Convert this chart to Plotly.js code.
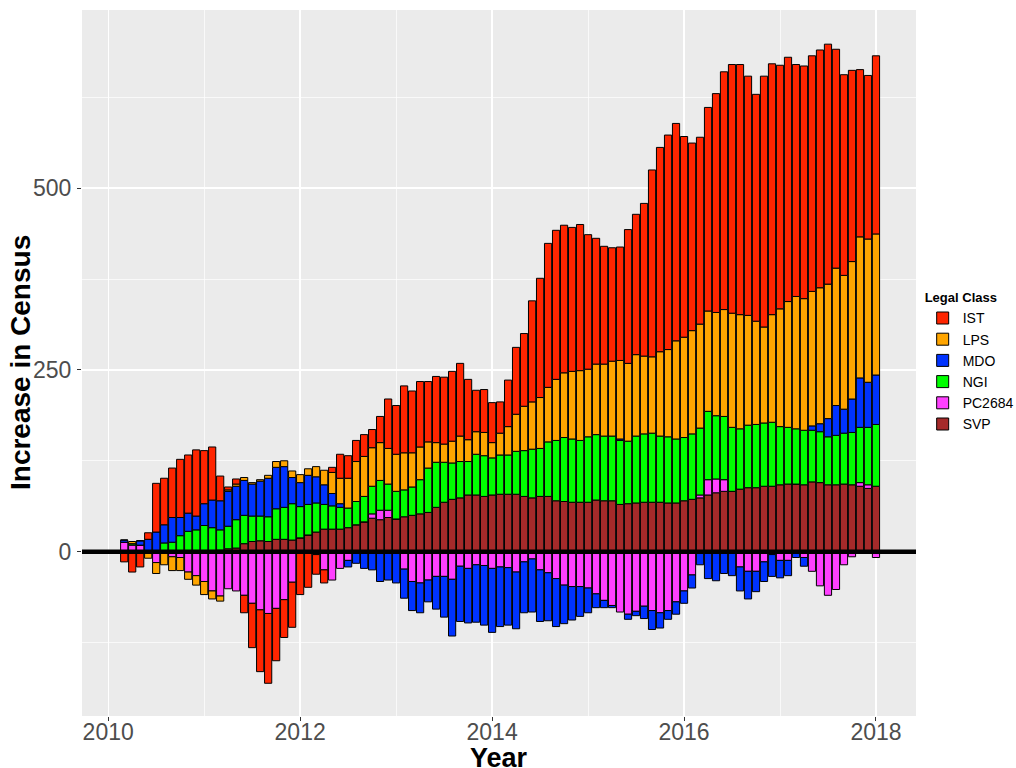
<!DOCTYPE html>
<html>
<head>
<meta charset="utf-8">
<script src="https://cdn.plot.ly/plotly-3.0.1.min.js"></script>
<style>html,body{margin:0;padding:0;background:#fff;}#chart{width:1016px;height:768px;}</style>
</head>
<body>
<div id="chart"></div>
<script>
// Monthly census change by legal class, Mar 2010 .. Jan 2018 (95 months)
const firstYear = 2010, firstMonth = 3, nMonths = 95;

const legalClasses = ["SVP", "PC2684", "NGI", "MDO", "LPS", "IST"];
const classColors = ["#A52A2A", "#FF40FF", "#00FF00", "#0033FF", "#FFA500", "#FF2500"];

const SVP = [0,0,0,0,0,0,0,0,0,0,0,0,2,4,5,11,14,15,14,17,17,16,19,23,27,31,31,31,33,37,
  41,46,44,47,45,48,50,52,54,61,68,72,74,78,78,76,78,79,79,79,76,74,76,76,70,69,68,68,68,71,
  70,70,65,66,67,68,68,68,67,67,70,72,74,78,81,83,83,86,88,88,90,90,92,93,93,92,96,95,92,92,
  93,92,90,87,90];
const PC2684 = [13,9,9,0,-15,0,-7,-8,-28,-33,-41,-54,-61,-51,-54,-60,-71,-80,-85,-78,-66,-42,0,0,-4,-25,-39,-23,-12,0,
  0,6,13,10,0,-24,-41,-43,-39,-34,-34,-38,-20,-23,-18,-19,-23,-21,-22,-28,-14,-10,-25,-29,-37,-46,-48,-48,-50,-58,
  -67,-74,-83,-86,-82,-75,-81,-84,-81,-69,-54,-32,4,21,19,16,0,-21,-27,-27,-14,-4,-12,-12,0,-8,-27,-47,-60,-52,
  -18,-7,5,5,-8];
const NGI = [0,2,0,0,0,12,13,22,28,30,36,33,28,31,39,39,35,34,34,42,44,50,43,42,40,34,32,30,27,32,
  35,38,41,36,38,37,39,47,61,62,55,50,50,46,56,56,51,54,54,59,63,67,66,75,83,88,87,85,90,90,
  89,89,88,86,92,94,95,91,91,88,87,90,92,94,87,87,88,83,86,87,87,88,80,78,76,75,71,70,66,68,
  70,72,76,79,85];
const MDO = [3,0,6,17,27,25,34,25,25,19,30,38,40,48,46,48,44,48,53,57,56,36,33,40,36,27,17,5,-9,-16,
  -23,-25,-41,-39,-43,-40,-40,-41,-30,-45,-56,-78,-76,-75,-79,-82,-88,-82,-79,-78,-70,-73,-71,-66,-66,-53,-46,-41,-34,-19,
  -10,-3,2,-7,-6,-17,-26,-21,-12,-17,-17,-18,-18,-37,-40,-30,-33,-33,-38,-28,-27,-30,-24,-21,-8,-12,6,11,25,41,
  33,46,68,62,68];
const LPS = [0,3,0,-9,-15,-18,-19,-18,-10,-13,-18,-11,-7,2,3,4,2,2,4,8,8,9,11,9,14,20,29,35,41,55,
  55,53,52,49,51,51,47,45,36,27,25,30,35,30,31,32,21,30,39,51,61,65,70,75,84,89,93,96,93,97,
  99,103,108,107,112,107,105,116,120,135,138,142,143,138,142,147,157,157,151,142,132,148,162,173,182,181,185,187,185,189,
  184,189,194,197,194];
const IST = [-14,-28,-21,9,67,64,68,80,80,91,73,73,34,4,7,-24,-61,-85,-96,-72,-52,-62,-59,-49,-27,-18,7,33,31,29,
  30,25,36,68,67,92,85,90,83,91,92,96,100,83,57,59,55,43,64,92,100,139,164,198,205,203,198,201,185,173,
  162,156,156,184,193,210,257,281,295,299,276,258,257,280,301,327,342,344,329,312,345,345,335,336,319,320,324,327,330,301,
  276,263,230,225,245];

const xTickVals = [2010, 2012, 2014, 2016, 2018];
const xTickText = ["2010", "2012", "2014", "2016", "2018"];
const yTickVals = [0, 250, 500];
const yTickText = ["0", "250", "500"];
const xTitle = "Year";
const yTitle = "Increase in Census";
const legendTitle = "Legal Class";

// month positions as decimal years
const monthPos = [];
for (let i = 0; i < nMonths; i++) {
  monthPos.push(firstYear + (firstMonth - 1 + i) / 12);
}

const seriesValues = [SVP, PC2684, NGI, MDO, LPS, IST];
const traces = legalClasses.map((name, k) => ({
  type: "bar",
  name: name,
  x: monthPos,
  y: seriesValues[k],
  width: 0.9 / 12,
  marker: { color: classColors[k], line: { color: "#000000", width: 1 } },
  hoverinfo: "skip"
}));

const FONT = "Liberation Sans, Arial, Helvetica, sans-serif";

const layout = {
  width: 1016,
  height: 768,
  margin: { l: 82, r: 100, t: 10, b: 52, autoexpand: false },
  paper_bgcolor: "#FFFFFF",
  plot_bgcolor: "#EBEBEB",
  barmode: "relative",
  bargap: 0,
  font: { family: FONT },
  showlegend: true,
  xaxis: {
    range: [2009.727, 2018.417],
    tickmode: "array",
    tickvals: xTickVals,
    ticktext: xTickText,
    ticks: "outside",
    ticklen: 4,
    tickwidth: 1,
    tickcolor: "#333333",
    ticklabelstandoff: -9,
    tickfont: { size: 23, color: "#4D4D4D", family: FONT },
    showgrid: true,
    gridcolor: "#FFFFFF",
    gridwidth: 1.4,
    minor: { tickmode: "array", tickvals: [2011, 2013, 2015, 2017], showgrid: true, gridcolor: "#FFFFFF", gridwidth: 0.7, ticks: "" },
    zeroline: false,
    showline: false
  },
  yaxis: {
    range: [-226, 745],
    tickmode: "array",
    tickvals: yTickVals,
    ticktext: yTickText,
    ticks: "outside",
    ticklen: 4,
    tickwidth: 1,
    tickcolor: "#333333",
    ticklabelstandoff: 1,
    tickfont: { size: 23, color: "#4D4D4D", family: FONT },
    showgrid: true,
    gridcolor: "#FFFFFF",
    gridwidth: 1.4,
    minor: { tickmode: "array", tickvals: [-125, 125, 375, 625], showgrid: true, gridcolor: "#FFFFFF", gridwidth: 0.7, ticks: "" },
    zeroline: false,
    showline: false
  },
  legend: {
    x: 1.008,
    xanchor: "left",
    y: 0.5,
    yanchor: "middle",
    traceorder: "reversed",
    bgcolor: "rgba(0,0,0,0)",
    font: { size: 14, color: "#000000", family: FONT },
    title: { text: "<b>" + legendTitle + "</b>", font: { size: 13, color: "#000000", family: FONT } },
    tracegroupgap: 0,
    itemwidth: 30
  },
  annotations: [
    {
      text: "<b>" + xTitle + "</b>", xref: "paper", yref: "paper", x: 0.5, y: 0,
      xanchor: "center", yanchor: "middle", yshift: -42, showarrow: false,
      font: { size: 27, color: "#000000", family: FONT }
    },
    {
      text: "<b>" + yTitle + "</b>", xref: "paper", yref: "paper", x: 0, y: 0.5,
      xanchor: "center", yanchor: "middle", xshift: -62, textangle: -90, showarrow: false,
      font: { size: 28, color: "#000000", family: FONT }
    }
  ],
  shapes: [{
    type: "line", xref: "paper", x0: 0, x1: 1, yref: "y", y0: 0, y1: 0,
    line: { color: "#000000", width: 4.5 }, layer: "above"
  }]
};

Plotly.newPlot("chart", traces, layout, { displayModeBar: false, staticPlot: true });
</script>
</body>
</html>
